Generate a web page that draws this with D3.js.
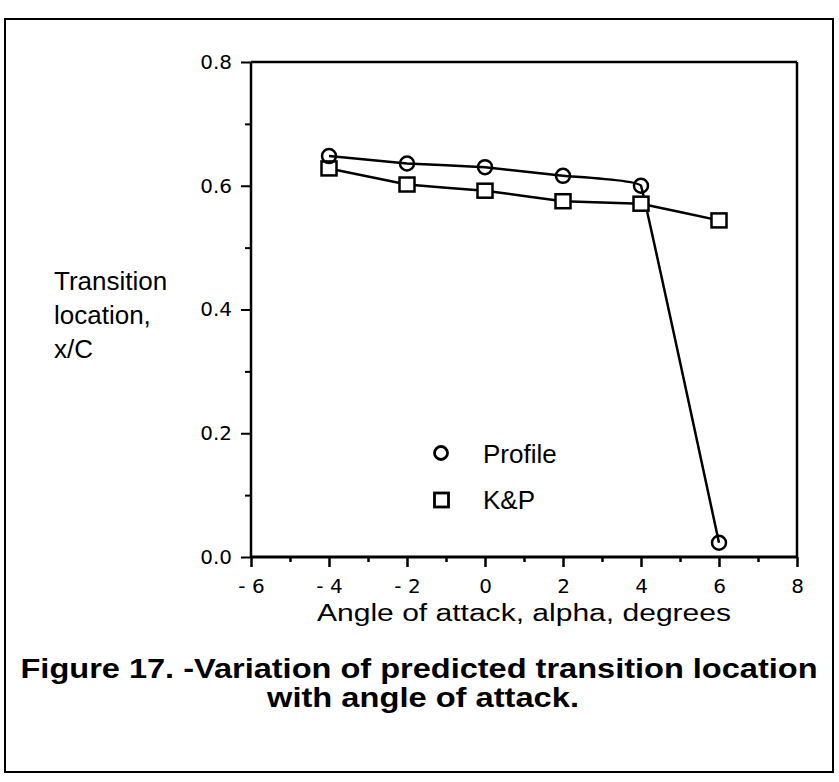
<!DOCTYPE html>
<html>
<head>
<meta charset="utf-8">
<script src="https://cdn.jsdelivr.net/npm/d3@7"></script>
<style>
  html, body { margin: 0; padding: 0; background: #fff; }
  svg { display: block; }
  text { fill: #000; }
</style>
</head>
<body>
<svg id="chart" width="839" height="782"></svg>
<script>
// ---- data ----
const alpha = [-4, -2, 0, 2, 4, 6];
const profile = [0.648, 0.636, 0.630, 0.616, 0.600, 0.023];
const kp = [0.628, 0.602, 0.592, 0.575, 0.571, 0.544];
const xTicks = [-6, -4, -2, 0, 2, 4, 6, 8];
const xTickLabels = ["- 6", "- 4", "- 2", "0", "2", "4", "6", "8"];
const xMinorTicks = [-5, -3, -1, 1, 3, 5, 7];
const yTicks = [0.0, 0.2, 0.4, 0.6, 0.8];
const yTickLabels = ["0.0", "0.2", "0.4", "0.6", "0.8"];
const yMinorTicks = [0.1, 0.3, 0.5, 0.7];
const seriesNames = ["Profile", "K&P"];
const yLabelLines = ["Transition", "location,", "x/C"];
const xTitle = "Angle of attack, alpha, degrees";
const captionLines = ["Figure 17. -Variation of predicted transition location", "with angle of attack."];

const FONT = "'Liberation Sans', Arial, Helvetica, sans-serif";
const TICKFONT = "'DejaVu Sans', 'Liberation Sans', sans-serif";
const svg = d3.select("#chart");

// outer frame
svg.append("rect").attr("x", 5).attr("y", 19).attr("width", 828).attr("height", 753)
  .attr("fill", "none").attr("stroke", "#000").attr("stroke-width", 2);

const x = d3.scaleLinear().domain([-6, 8]).range([251, 797]);
const y = d3.scaleLinear().domain([0, 0.8]).range([557, 62]);

// plot frame (top & right)
svg.append("line").attr("x1", x(-6)).attr("x2", x(8)).attr("y1", y(0.8)).attr("y2", y(0.8))
  .attr("stroke", "#000").attr("stroke-width", 2.5);
svg.append("line").attr("x1", x(8)).attr("x2", x(8)).attr("y1", y(0.8)).attr("y2", y(0))
  .attr("stroke", "#000").attr("stroke-width", 2.5);

// x axis
const xAxis = d3.axisBottom(x).tickValues(xTicks).tickSize(10).tickPadding(12)
  .tickFormat((d, i) => xTickLabels[i]);
const gx = svg.append("g").attr("transform", `translate(0,${y(0)})`).call(xAxis)
  .attr("font-size", 20).attr("font-family", TICKFONT);
gx.select(".domain").attr("stroke-width", 3).attr("d", `M${x(-6)},0H${x(8)}`);
gx.selectAll(".tick line").attr("stroke-width", 2.5);
const xMinor = d3.axisBottom(x).tickValues(xMinorTicks).tickSize(5).tickFormat("");
const gxm = svg.append("g").attr("transform", `translate(0,${y(0)})`).call(xMinor);
gxm.select(".domain").remove();
gxm.selectAll(".tick line").attr("stroke-width", 2.5);

// y axis
const yAxis = d3.axisLeft(y).tickValues(yTicks).tickSize(10).tickPadding(9)
  .tickFormat((d, i) => yTickLabels[i]);
const gy = svg.append("g").attr("transform", `translate(${x(-6)},0)`).call(yAxis)
  .attr("font-size", 20).attr("font-family", TICKFONT);
gy.select(".domain").attr("stroke-width", 2.5).attr("d", `M0,${y(0)}V${y(0.8)}`);
gy.selectAll(".tick line").attr("stroke-width", 2);
const yMinor = d3.axisLeft(y).tickValues(yMinorTicks).tickSize(6).tickFormat("");
const gym = svg.append("g").attr("transform", `translate(${x(-6)},0)`).call(yMinor);
gym.select(".domain").remove();
gym.selectAll(".tick line").attr("stroke-width", 2);

// lines
const line = d3.line().x(d => x(d[0])).y(d => y(d[1])).curve(d3.curveCardinal.tension(0.9));
const profData = alpha.map((a, i) => [a, profile[i]]);
const kpData = alpha.map((a, i) => [a, kp[i]]);
svg.append("path").datum(profData).attr("d", line).attr("fill", "none").attr("stroke", "#000").attr("stroke-width", 2.5);
svg.append("path").datum(kpData).attr("d", line).attr("fill", "none").attr("stroke", "#000").attr("stroke-width", 2.5);

// markers
svg.selectAll("rect.kp").data(kpData).enter().append("rect").attr("class", "kp")
  .attr("x", d => x(d[0]) - 7.5).attr("y", d => y(d[1]) - 7)
  .attr("width", 15).attr("height", 14)
  .attr("fill", "#fff").attr("stroke", "#000").attr("stroke-width", 2.5);
svg.selectAll("circle.prof").data(profData).enter().append("circle").attr("class", "prof")
  .attr("cx", d => x(d[0])).attr("cy", d => y(d[1])).attr("r", 7)
  .attr("fill", "none").attr("stroke", "#000").attr("stroke-width", 2.5);

// legend
const lg = svg.append("g").attr("font-family", FONT);
lg.append("circle").attr("cx", 441).attr("cy", 453).attr("r", 6.5)
  .attr("fill", "none").attr("stroke", "#000").attr("stroke-width", 2.8);
lg.append("rect").attr("x", 434.5).attr("y", 493).attr("width", 14).attr("height", 14)
  .attr("fill", "none").attr("stroke", "#000").attr("stroke-width", 2.8);
lg.append("text").attr("x", 483).attr("y", 463).attr("font-size", 26).text(seriesNames[0]);
lg.append("text").attr("x", 483).attr("y", 509).attr("font-size", 26).text(seriesNames[1]);

// y label
svg.append("g").attr("font-family", FONT).selectAll("text").data(yLabelLines).enter().append("text")
  .attr("x", 54).attr("y", (d, i) => 290 + i * 34).attr("font-size", 26).text(d => d);

// x title
svg.append("text").attr("x", 524).attr("y", 621).attr("text-anchor", "middle").attr("font-family", FONT)
  .attr("font-size", 23).attr("textLength", 414).attr("lengthAdjust", "spacingAndGlyphs").text(xTitle);

// caption
svg.append("text").attr("x", 419).attr("y", 678).attr("text-anchor", "middle").attr("font-family", FONT)
  .attr("font-size", 27).attr("font-weight", "bold")
  .attr("textLength", 797).attr("lengthAdjust", "spacingAndGlyphs").text(captionLines[0]);
svg.append("text").attr("x", 423).attr("y", 707).attr("text-anchor", "middle").attr("font-family", FONT)
  .attr("font-size", 27).attr("font-weight", "bold")
  .attr("textLength", 312).attr("lengthAdjust", "spacingAndGlyphs").text(captionLines[1]);
</script>
</body>
</html>
